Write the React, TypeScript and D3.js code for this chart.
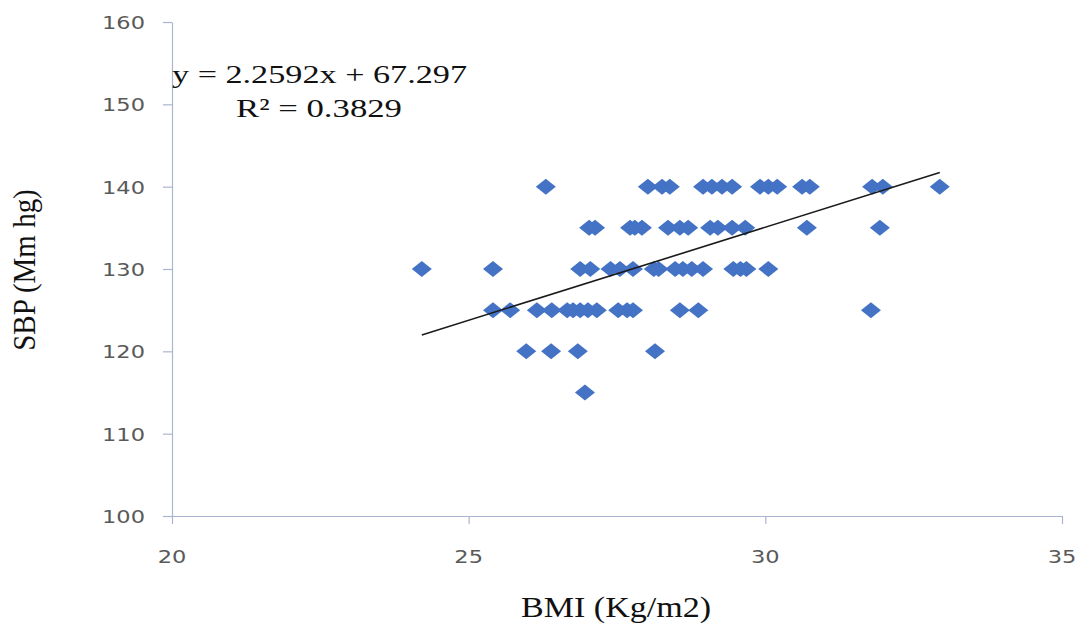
import { useEffect, useRef } from 'react';
import * as d3 from 'd3';

// BMI readings grouped by SBP level
const sbpLevels = [140, 135, 130, 125, 120, 115];
const bmi140 = [26.3, 28.02, 28.26, 28.39, 28.95, 29.1, 29.27, 29.44, 29.91, 30.05, 30.2, 30.62, 30.75, 31.8, 31.98, 32.94];
const bmi135 = [27.03, 27.13, 27.72, 27.8, 27.92, 28.36, 28.56, 28.7, 29.07, 29.2, 29.44, 29.66, 30.7, 31.93];
const bmi130 = [24.21, 25.41, 26.88, 27.05, 27.39, 27.55, 27.77, 28.12, 28.2, 28.48, 28.61, 28.76, 28.95, 29.46, 29.58, 29.68, 30.05];
const bmi125 = [25.41, 25.7, 26.15, 26.4, 26.66, 26.76, 26.88, 27.01, 27.16, 27.52, 27.67, 27.77, 28.56, 28.87, 31.78];
const bmi120 = [25.97, 26.39, 26.84, 28.14];
const bmi115 = [26.96];
const bmiGroups = [bmi140, bmi135, bmi130, bmi125, bmi120, bmi115];

const xTicks = [20, 25, 30, 35];
const yTicks = [100, 110, 120, 130, 140, 150, 160];
const slope = 2.2592;
const intercept = 67.297;
const eqLine = 'y = 2.2592x + 67.297';
const r2Line = 'R² = 0.3829';

export default function App() {
  const svgRef = useRef<SVGSVGElement>(null);

  useEffect(() => {
    const W = 1083, H = 626;
    const m = { left: 172, right: 21, top: 22, bottom: 110 };
    const svg = d3.select(svgRef.current).attr('width', W).attr('height', H);
    svg.selectAll('*').remove();

    const x = d3.scaleLinear().domain([20, 35]).range([m.left, W - m.right]);
    const y = d3.scaleLinear().domain([100, 160]).range([H - m.bottom, m.top]);
    const axisColor = '#aab6cf';
    const tickFont = 'DejaVu Sans, Verdana, sans-serif';

    const pts = bmiGroups.flatMap((g, i) => g.map(b => ({ b, s: sbpLevels[i] })));

    // axes
    const gx = svg.append('g').attr('transform', `translate(0,${H - m.bottom})`)
      .call(d3.axisBottom(x).tickValues(xTicks).tickSize(8).tickSizeOuter(0).tickFormat(() => ''));
    const gy = svg.append('g').attr('transform', `translate(${m.left},0)`)
      .call(d3.axisLeft(y).tickValues(yTicks).tickSize(9).tickSizeOuter(0).tickFormat(() => ''));
    [gx, gy].forEach(g => {
      g.selectAll('path,line').attr('stroke', axisColor).attr('stroke-width', 1.2);
    });

    svg.append('g').selectAll('text').data(xTicks).enter().append('text')
      .attr('transform', d => `translate(${x(d)},563) scale(1.25,1)`)
      .attr('text-anchor', 'middle').attr('font-family', tickFont).attr('font-size', 18)
      .attr('fill', '#595959').text(d => d);

    svg.append('g').selectAll('text').data(yTicks).enter().append('text')
      .attr('transform', d => `translate(145,${y(d) + 7}) scale(1.25,1)`)
      .attr('text-anchor', 'end').attr('font-family', tickFont).attr('font-size', 18)
      .attr('fill', '#595959').text(d => d);

    // points
    const diamond = 'M0,-8L10,0L0,8L-10,0Z';
    svg.append('g').selectAll('path').data(pts).enter().append('path')
      .attr('d', diamond)
      .attr('transform', d => `translate(${x(d.b)},${y(d.s)})`)
      .attr('fill', '#4472c4');

    // trend line
    const [bMin, bMax] = d3.extent(pts, d => d.b) as [number, number];
    svg.append('path')
      .datum([bMin, bMax])
      .attr('d', d3.line<number>().x(d => x(d)).y(d => y(slope * d + intercept)))
      .attr('stroke', '#1a1a1a').attr('stroke-width', 1.6).attr('fill', 'none');

    // equation
    const serif = 'Liberation Serif, Times New Roman, serif';
    svg.append('text').attr('x', 172).attr('y', 83).attr('font-family', serif).attr('font-size', 26)
      .attr('textLength', 295).attr('lengthAdjust', 'spacingAndGlyphs').attr('fill', '#111').text(eqLine);
    svg.append('text').attr('x', 236).attr('y', 117).attr('font-family', serif).attr('font-size', 26)
      .attr('textLength', 166).attr('lengthAdjust', 'spacingAndGlyphs').attr('fill', '#111').text(r2Line);

    // axis titles
    svg.append('text').attr('x', 521).attr('y', 617).attr('font-family', serif).attr('font-size', 30)
      .attr('textLength', 190).attr('lengthAdjust', 'spacingAndGlyphs').attr('fill', '#111').text('BMI (Kg/m2)');
    svg.append('text')
      .attr('transform', 'translate(35,270) scale(1.12,1) rotate(-90)')
      .attr('text-anchor', 'middle').attr('font-family', serif).attr('font-size', 29)
      .attr('fill', '#111').text('SBP (Mm hg)');
  }, []);

  return (
    <svg ref={svgRef} style={{ position: 'absolute', left: 0, top: 0, background: '#fff' }} />
  );
}
